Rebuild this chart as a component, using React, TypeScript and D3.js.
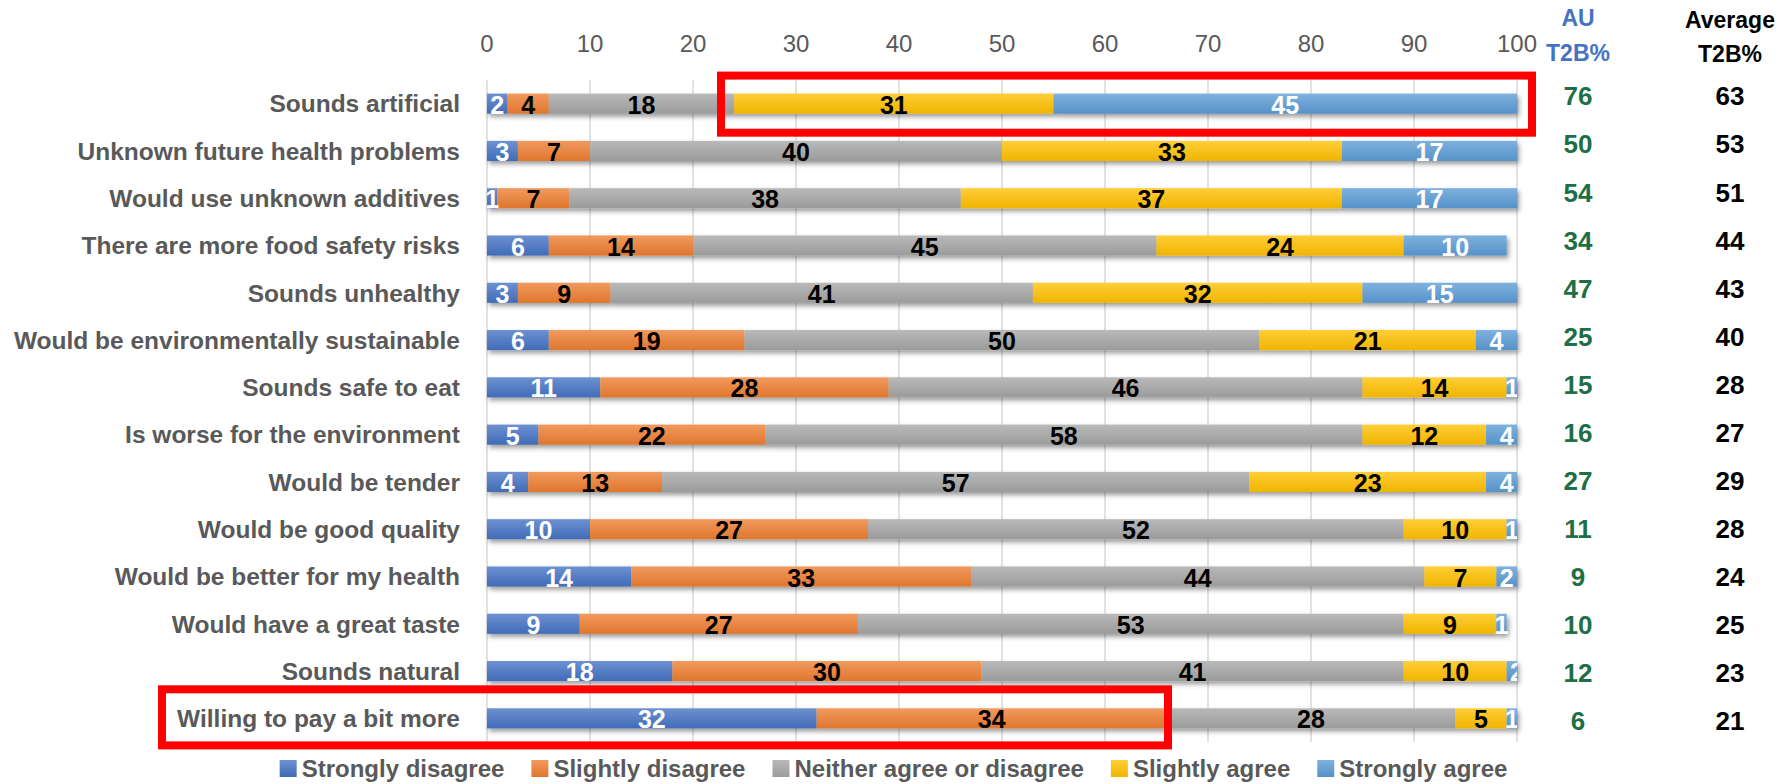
import React from "react";
import * as d3 from "d3";

// Survey statements (top to bottom)
const categories = [
  "Sounds artificial",
  "Unknown future health problems",
  "Would use unknown additives",
  "There are more food safety risks",
  "Sounds unhealthy",
  "Would be environmentally sustainable",
  "Sounds safe to eat",
  "Is worse for the environment",
  "Would be tender",
  "Would be good quality",
  "Would be better for my health",
  "Would have a great taste",
  "Sounds natural",
  "Willing to pay a bit more",
];

// Response shares (%) per statement
const strongDisagree = [2, 3, 1, 6, 3, 6, 11, 5, 4, 10, 14, 9, 18, 32];
const slightDisagree = [4, 7, 7, 14, 9, 19, 28, 22, 13, 27, 33, 27, 30, 34];
const neither = [18, 40, 38, 45, 41, 50, 46, 58, 57, 52, 44, 53, 41, 28];
const slightAgree = [31, 33, 37, 24, 32, 21, 14, 12, 23, 10, 7, 9, 10, 5];
const strongAgree = [45, 17, 17, 10, 15, 4, 1, 4, 4, 1, 2, 1, 2, 1];

// Top-2-box summary columns
const auT2B = [76, 50, 54, 34, 47, 25, 15, 16, 27, 11, 9, 10, 12, 6];
const avgT2B = [63, 53, 51, 44, 43, 40, 28, 27, 29, 28, 24, 25, 23, 21];

const seriesNames = [
  "Strongly disagree",
  "Slightly disagree",
  "Neither agree or disagree",
  "Slightly agree",
  "Strongly agree",
];
const seriesColors = ["#4472C4", "#ED7D31", "#A5A5A5", "#FFC000", "#5B9BD5"];
const labelColors = ["#FFFFFF", "#000000", "#000000", "#000000", "#FFFFFF"];
const xTicks = [0, 10, 20, 30, 40, 50, 60, 70, 80, 90, 100];

// Statements picked out with a red frame
const highlightRows = ["Sounds artificial", "Willing to pay a bit more"];

const W = 1787;
const H = 784;
const FONT = "'Liberation Sans', Arial, Helvetica, sans-serif";
const GRAY_TEXT = "#595959";

type Row = { cat: string; [k: string]: number | string };

const rows: Row[] = categories.map((cat, i) => ({
  cat,
  [seriesNames[0]]: strongDisagree[i],
  [seriesNames[1]]: slightDisagree[i],
  [seriesNames[2]]: neither[i],
  [seriesNames[3]]: slightAgree[i],
  [seriesNames[4]]: strongAgree[i],
}));

let measureCtx: CanvasRenderingContext2D | null = null;
function textWidth(s: string, font: string): number {
  if (!measureCtx) {
    const c = document.createElement("canvas");
    measureCtx = c.getContext("2d");
  }
  if (!measureCtx) return s.length * 12;
  measureCtx.font = font;
  return measureCtx.measureText(s).width;
}

export default function App() {
  const x = d3.scaleLinear().domain([0, 100]).range([487, 1517]);
  const y = d3
    .scaleBand<string>()
    .domain(categories)
    .range([80, 742])
    .paddingInner(0.575)
    .paddingOuter(0.2875);
  const tableY = d3.scaleBand<string>().domain(categories).range([72, 745]);

  const stack = d3.stack<Row>().keys(seriesNames).value((d, k) => d[k] as number);
  const stacked = stack(rows);

  const bw = y.bandwidth();
  const plotTop = 80;
  const plotBottom = 742;

  // Legend layout, centred across the full width
  const legendFont = `bold 24px ${FONT}`;
  const sw = 17;
  const swGap = 5;
  const itemGap = 27;
  const widths = seriesNames.map((s) => textWidth(s, legendFont));
  const total =
    widths.reduce((a, b) => a + b, 0) + seriesNames.length * (sw + swGap) + itemGap * (seriesNames.length - 1);
  let cursor = W / 2 - total / 2;
  const legendItems = seriesNames.map((s, i) => {
    const item = { name: s, x: cursor, color: seriesColors[i] };
    cursor += sw + swGap + widths[i] + itemGap;
    return item;
  });

  const light = (c: string) => d3.interpolateRgb(c, "#ffffff")(0.22);
  const dark = (c: string) => d3.interpolateRgb(c, "#000000")(0.06);

  const box1 = highlightRows[0];
  const box2 = highlightRows[1];

  return (
    <svg
      width={W}
      height={H}
      viewBox={`0 0 ${W} ${H}`}
      style={{ position: "absolute", left: 0, top: 0, background: "#ffffff" }}
      fontFamily={FONT}
    >
      <defs>
        {seriesColors.map((c, i) => (
          <linearGradient key={i} id={`grad${i}`} x1="0" y1="0" x2="0" y2="1">
            <stop offset="0%" stopColor={light(c)} />
            <stop offset="100%" stopColor={dark(c)} />
          </linearGradient>
        ))}
        <clipPath id="plotClip">
          <rect x={x(0)} y={0} width={x(100) - x(0)} height={H} />
        </clipPath>
        <filter id="barShadow" x="-5%" y="-50%" width="110%" height="250%">
          <feDropShadow dx="2" dy="3" stdDeviation="2.5" floodColor="#000000" floodOpacity="0.4" />
        </filter>
      </defs>

      <rect x={0} y={0} width={W} height={H} fill="#ffffff" />

      {/* vertical gridlines */}
      <g>
        {xTicks.map((t) => (
          <line
            key={t}
            x1={x(t)}
            x2={x(t)}
            y1={plotTop}
            y2={plotBottom}
            stroke="#D9D9D9"
            strokeWidth={1.5}
          />
        ))}
      </g>

      {/* value axis labels on top */}
      <g>
        {xTicks.map((t) => (
          <text key={t} x={x(t)} y={52} textAnchor="middle" fontSize={24} fill={GRAY_TEXT}>
            {t}
          </text>
        ))}
      </g>

      {/* statement labels */}
      <g>
        {categories.map((c) => (
          <text
            key={c}
            x={460}
            y={(y(c) ?? 0) + bw / 2}
            dy="0.36em"
            textAnchor="end"
            fontSize={24.5}
            fontWeight="bold"
            fill={GRAY_TEXT}
          >
            {c}
          </text>
        ))}
      </g>

      {/* stacked bars */}
      {categories.map((c, ri) => (
        <g key={c} filter="url(#barShadow)">
          <g clipPath="url(#plotClip)">
            {stacked.map((s, si) => {
              const d = s[ri];
              return (
                <rect
                  key={si}
                  x={x(d[0])}
                  y={y(c)}
                  width={Math.max(0, x(d[1]) - x(d[0]))}
                  height={bw}
                  fill={`url(#grad${si})`}
                />
              );
            })}
          </g>
        </g>
      ))}

      {/* segment value labels */}
      <g clipPath="url(#plotClip)">
        {stacked.map((s, si) =>
          s.map((d, ri) => {
            const c = categories[ri];
            const v = d[1] - d[0];
            if (v <= 0) return null;
            return (
              <text
                key={`${si}-${ri}`}
                x={x((d[0] + d[1]) / 2)}
                y={(y(c) ?? 0) + bw / 2 + 1}
                dy="0.36em"
                textAnchor="middle"
                fontSize={25}
                fontWeight="bold"
                fill={labelColors[si]}
              >
                {v}
              </text>
            );
          })
        )}
      </g>

      {/* summary columns */}
      <g fontWeight="bold" fontSize={23} textAnchor="middle">
        <text x={1578} y={26} fill="#4472C4">AU</text>
        <text x={1578} y={61} fill="#4472C4">T2B%</text>
        <text x={1730} y={28} fill="#000000">Average</text>
        <text x={1730} y={62} fill="#000000">T2B%</text>
      </g>
      <g fontWeight="bold" fontSize={26} textAnchor="middle">
        {categories.map((c, i) => (
          <text
            key={`au-${c}`}
            x={1578}
            y={(tableY(c) ?? 0) + tableY.bandwidth() / 2}
            dy="0.36em"
            fill="#1E6F45"
          >
            {auT2B[i]}
          </text>
        ))}
        {categories.map((c, i) => (
          <text
            key={`avg-${c}`}
            x={1730}
            y={(tableY(c) ?? 0) + tableY.bandwidth() / 2}
            dy="0.36em"
            fill="#000000"
          >
            {avgT2B[i]}
          </text>
        ))}
      </g>

      {/* highlight frames */}
      <rect
        x={721}
        y={(y(box1) ?? 0) - 18}
        width={811}
        height={bw + 37}
        fill="none"
        stroke="#FF0000"
        strokeWidth={8}
      />
      <rect
        x={162}
        y={(y(box2) ?? 0) - 19}
        width={1006}
        height={bw + 36}
        fill="none"
        stroke="#FF0000"
        strokeWidth={8}
      />

      {/* legend */}
      <g>
        {legendItems.map((it, i) => (
          <g key={it.name} transform={`translate(${it.x},0)`}>
            <rect x={0} y={760} width={sw} height={sw} fill={`url(#grad${i})`} />
            <text x={sw + swGap} y={777} fontSize={24} fontWeight="bold" fill={GRAY_TEXT}>
              {it.name}
            </text>
          </g>
        ))}
      </g>
    </svg>
  );
}
